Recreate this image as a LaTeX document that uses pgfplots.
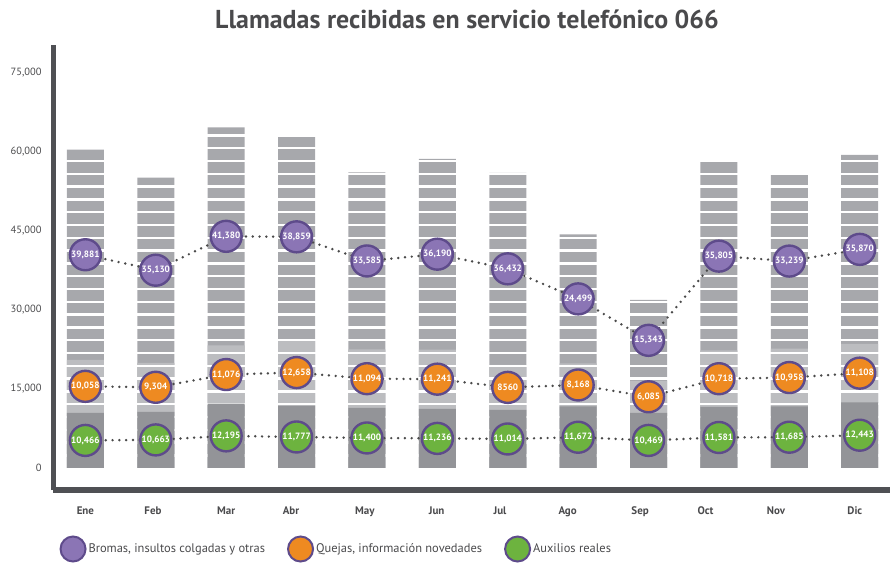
\documentclass[border=0pt]{standalone}
\usepackage{fontspec}
\setmainfont{PT Sans}
\usepackage{pgfplots}
\pgfplotsset{compat=1.18}
\usepackage{pgfplotstable}

\definecolor{axgray}{HTML}{4F5054}
\definecolor{txtgray}{HTML}{4A4A4C}
\definecolor{bardark}{HTML}{939498}
\definecolor{barlight}{HTML}{BCBDC0}
\definecolor{barmid}{HTML}{A7A8AC}
\definecolor{purp}{HTML}{8B75B5}
\definecolor{orng}{HTML}{EE8A21}
\definecolor{grn}{HTML}{6DB33F}
\definecolor{cborder}{HTML}{5E4B8B}
\definecolor{dotc}{HTML}{4A4A4A}

\pgfplotstableread{
x aux quej brom laux lquej lbrom
0 10466 10058 39881 10,466 10,058 39,881
1 10663 9304 35130 10,663 9,304 35,130
2 12195 11076 41380 12,195 11,076 41,380
3 11777 12658 38859 11,777 12,658 38,859
4 11400 11094 33585 11,400 11,094 33,585
5 11236 11241 36190 11,236 11,241 36,190
6 11014 8560 36432 11,014 8560 36,432
7 11672 8168 24499 11,672 8,168 24,499
8 10469 6085 15343 10,469 6,085 15,343
9 11581 10718 35805 11,581 10,718 35,805
10 11685 10958 33239 11,685 10,958 33,239
11 12443 11108 35870 12,443 11,108 35,870
}\datatable

\pgfplotsset{
  barbase/.style={ybar, bar width=37bp, bar shift=0pt, draw=none, forget plot},
  circline/.style={dotc, line width=2.7bp, dash pattern=on 0bp off 6.8bp, line cap=round,
    mark=*, mark size=15.5bp,
    mark options={solid, fill=#1, draw=cborder, line width=2.4bp},
    nodes near coords, point meta=explicit symbolic,
    every node near coord/.append style={anchor=center, text=white, inner sep=0pt,
      font=\bfseries\fontsize{9.2}{10}\selectfont},
    legend image code/.code={\draw[solid, line width=2bp, draw=cborder, fill=#1] (8.5bp,0) circle (12.5bp);}},
}

\begin{document}
\begin{tikzpicture}
\path[use as bounding box] (0,0) rectangle (890bp,565bp);
\node[font=\bfseries\fontsize{26}{30}\selectfont, text=txtgray] at (467bp,546bp) {Llamadas recibidas en servicio telefónico 066};
\begin{axis}[
  at={(53bp,75bp)}, anchor=south west,
  width=837bp, height=445bp, scale only axis,
  xmin=-0.46, xmax=11.43,
  ymin=-4175, ymax=80265,
  axis x line*=bottom, axis y line*=left,
  axis line style={line width=5bp, color=axgray, -},
  major tick length=0pt,
  xtick={0,0.96,2.0,2.92,3.97,4.99,5.89,6.85,7.88,8.81,9.81,10.93},
  xticklabels={Ene,Feb,Mar,Abr,May,Jun,Jul,Ago,Sep,Oct,Nov,Dic},
  xticklabel style={font=\bfseries\fontsize{11}{13}\selectfont, text=txtgray, yshift=-13bp},
  ytick={0,15000,30000,45000,60000,75000},
  scaled y ticks=false,
  yticklabel style={font=\fontsize{10.5}{12}\selectfont, text=txtgray, xshift=-8bp},
  /pgf/number format/assume math mode=true,
  /pgf/number format/.cd, 1000 sep={,}, /pgfplots/.cd,
  legend style={at={(axis description cs:0.004,-0.1326)}, anchor=west, draw=none, fill=none,
    legend columns=3, font=\fontsize{12.5}{14}\selectfont, text=txtgray,
    /tikz/every even column/.append style={column sep=20bp}},
  clip=false,
]
% stacked bars drawn as cumulative totals, top segment first
\addplot[barbase, fill=barmid] table[x=x, y expr=\thisrow{aux}+\thisrow{quej}+\thisrow{brom}] {\datatable};
\addplot[barbase, fill=barlight] table[x=x, y expr=\thisrow{aux}+\thisrow{quej}] {\datatable};
% white horizontal stripes over the upper segments
\pgfplotsinvokeforeach{0,...,30}{
  \draw[white, line width=2.4bp] (axis cs:-0.35,{2400+#1*2429}) -- (axis cs:11.43,{2400+#1*2429});
}
\addplot[barbase, fill=bardark] table[x=x, y=aux] {\datatable};

\addplot[circline=purp] table[x=x, y expr=\thisrow{aux}+\thisrow{quej}+0.5*\thisrow{brom}, meta=lbrom] {\datatable};
\addlegendentry{Bromas, insultos colgadas y otras}
\addplot[circline=orng] table[x=x, y expr=\thisrow{aux}+0.5*\thisrow{quej}, meta=lquej] {\datatable};
\addlegendentry{Quejas, información novedades}
\addplot[circline=grn] table[x=x, y expr=0.5*\thisrow{aux}, meta=laux] {\datatable};
\addlegendentry{Auxilios reales}
\end{axis}
\end{tikzpicture}
\end{document}
